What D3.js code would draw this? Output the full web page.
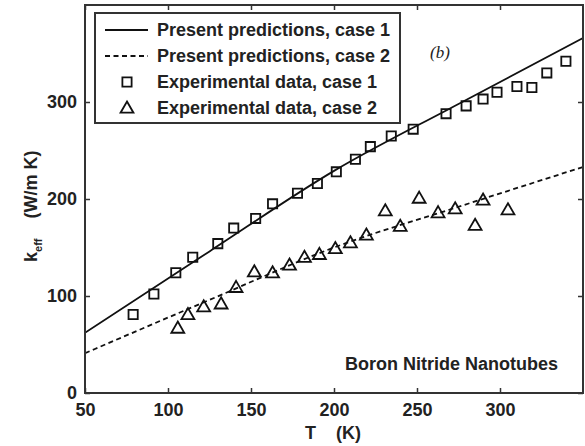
<!DOCTYPE html>
<html>
<head>
<meta charset="utf-8">
<script src="https://cdn.jsdelivr.net/npm/d3@7"></script>
<style>
body { margin: 0; background: #fff; }
text { font-family: "Liberation Sans", Arial, sans-serif; fill: #222; }
</style>
</head>
<body>
<div id="chart"></div>
<script>
// model predictions (sampled off the curves)
var predT = [50, 125, 200, 275, 350];
var pred1 = [62, 146, 229, 298, 366];
var pred2 = [41, 96, 150, 192, 233];

// experimental data, case 1 (squares)
var expT1 = [79, 91.5, 104.7, 114.9, 130, 139.6, 152.8, 163, 178, 190, 201.4, 212.9, 221.9, 234.5, 247.7, 267.5, 279.6, 289.8, 298.2, 310.2, 319.2, 328.2, 339.7];
var expK1 = [81, 102, 124, 140, 154, 170, 180, 195, 206, 216, 228, 241, 254, 265, 272, 288, 296, 303, 310, 316, 315, 330, 342];

// experimental data, case 2 (triangles)
var expT2 = [105.9, 112, 121.5, 132, 141, 152, 163, 173.2, 182.2, 191.2, 200.8, 209.9, 219.5, 230.9, 239.9, 251.3, 262.7, 273, 285, 289.8, 304.8];
var expK2 = [67, 81, 89, 92, 109, 125, 124, 132, 140, 143, 149, 155, 163, 188, 172, 201, 186, 190, 173, 199, 189];

var xTicks = [50, 100, 150, 200, 250, 300];
var yTicks = [0, 100, 200, 300];
var legendLabels = ["Present predictions, case 1", "Present predictions, case 2", "Experimental data, case 1", "Experimental data, case 2"];

var W = 585, H = 446;
var margin = {top: 5, right: 2, bottom: 53, left: 85};
var width = W - margin.left - margin.right,
    height = H - margin.top - margin.bottom;

var svg = d3.select("#chart").append("svg")
  .attr("width", W).attr("height", H);

var g = svg.append("g")
  .attr("transform", "translate(" + margin.left + "," + margin.top + ")");

var x = d3.scaleLinear().domain([50, 350]).range([0, width]);
var y = d3.scaleLinear().domain([0, 400]).range([height, 0]);

g.append("clipPath").attr("id", "clip")
  .append("rect").attr("width", width).attr("height", height);

// axes, ticks inward
g.append("g").attr("transform", "translate(0," + height + ")")
  .call(d3.axisBottom(x).tickValues(xTicks).tickSize(-5).tickPadding(10))
  .call(ax => ax.select(".domain").remove());
g.append("g")
  .call(d3.axisTop(x).tickValues(xTicks).tickSize(-5).tickFormat(""))
  .call(ax => ax.select(".domain").remove());
g.append("g")
  .call(d3.axisLeft(y).tickValues(yTicks).tickSize(-5).tickPadding(8))
  .call(ax => ax.select(".domain").remove());
g.append("g").attr("transform", "translate(" + width + ",0)")
  .call(d3.axisRight(y).tickValues(yTicks).tickSize(-5).tickFormat(""))
  .call(ax => ax.select(".domain").remove());

g.selectAll(".tick line").attr("stroke", "#333").attr("stroke-width", 1.5);
g.selectAll(".tick text")
  .style("font-size", "18px").style("font-weight", "bold").attr("fill", "#222");

var plot = g.append("g").attr("clip-path", "url(#clip)");

var line = d3.line().curve(d3.curveMonotoneX).x(d => x(d[0])).y(d => y(d[1]));

plot.append("path")
  .datum(predT.map((t, i) => [t, pred1[i]]))
  .attr("d", line).attr("fill", "none")
  .attr("stroke", "#111").attr("stroke-width", 1.8);

plot.append("path")
  .datum(predT.map((t, i) => [t, pred2[i]]))
  .attr("d", line).attr("fill", "none")
  .attr("stroke", "#111").attr("stroke-width", 1.8)
  .attr("stroke-dasharray", "5,3.5");

var sq = d3.symbol().type(d3.symbolSquare).size(85);
var tri = d3.symbol().type(d3.symbolTriangle).size(72);

plot.selectAll(".sq")
  .data(expT1.map((t, i) => [t, expK1[i]]))
  .enter().append("path")
  .attr("class", "sq")
  .attr("transform", d => "translate(" + x(d[0]) + "," + y(d[1]) + ")")
  .attr("d", sq).attr("fill", "none")
  .attr("stroke", "#111").attr("stroke-width", 1.8);

plot.selectAll(".tri")
  .data(expT2.map((t, i) => [t, expK2[i]]))
  .enter().append("path")
  .attr("class", "tri")
  .attr("transform", d => "translate(" + x(d[0]) + "," + (y(d[1]) + 1) + ")")
  .attr("d", tri).attr("fill", "none")
  .attr("stroke", "#111").attr("stroke-width", 1.8);

// frame
g.append("rect")
  .attr("width", width).attr("height", height)
  .attr("fill", "none").attr("stroke", "#333").attr("stroke-width", 2);

// legend
var lg = g.append("g").attr("transform", "translate(10,8)");
lg.append("rect")
  .attr("width", 305).attr("height", 110)
  .attr("fill", "#fff").attr("stroke", "#333").attr("stroke-width", 2);

var rows = lg.selectAll(".row").data(legendLabels).enter().append("g")
  .attr("transform", (d, i) => "translate(0," + (17 + i * 26) + ")");

rows.append("text")
  .attr("x", 62).attr("dy", "0.35em")
  .style("font-size", "18px").style("font-weight", "bold")
  .text(d => d);

rows.filter((d, i) => i < 2).append("line")
  .attr("x1", 10).attr("x2", 53)
  .attr("stroke", "#111").attr("stroke-width", 1.8)
  .attr("stroke-dasharray", (d, i) => i === 1 ? "5,3.5" : null);

rows.filter((d, i) => i === 2).append("path")
  .attr("transform", "translate(32,0)")
  .attr("d", sq).attr("fill", "none").attr("stroke", "#111").attr("stroke-width", 1.8);
rows.filter((d, i) => i === 3).append("path")
  .attr("transform", "translate(32,1)")
  .attr("d", tri).attr("fill", "none").attr("stroke", "#111").attr("stroke-width", 1.8);

// panel label
g.append("text")
  .attr("x", 355).attr("y", 53)
  .attr("text-anchor", "middle")
  .style("font-family", "'Liberation Serif', serif").style("font-style", "italic")
  .style("font-size", "17px").attr("fill", "#444")
  .text("(b)");

g.append("text")
  .attr("x", 473).attr("y", 359)
  .attr("text-anchor", "end").attr("dy", "0.35em")
  .style("font-size", "18px").style("font-weight", "bold")
  .text("Boron Nitride Nanotubes");

// axis titles
svg.append("text")
  .attr("x", 305).attr("y", 439)
  .style("font-size", "18px").style("font-weight", "bold")
  .attr("xml:space", "preserve")
  .text("T    (K)");

var yl = svg.append("text")
  .attr("transform", "translate(37,262) rotate(-90)")
  .style("font-size", "18px").style("font-weight", "bold");
yl.append("tspan").text("k");
yl.append("tspan").attr("dy", 5).style("font-size", "11px").text("eff");
yl.append("tspan").attr("dy", -5).attr("xml:space", "preserve").text("    (W/m K)");
</script>
</body>
</html>
